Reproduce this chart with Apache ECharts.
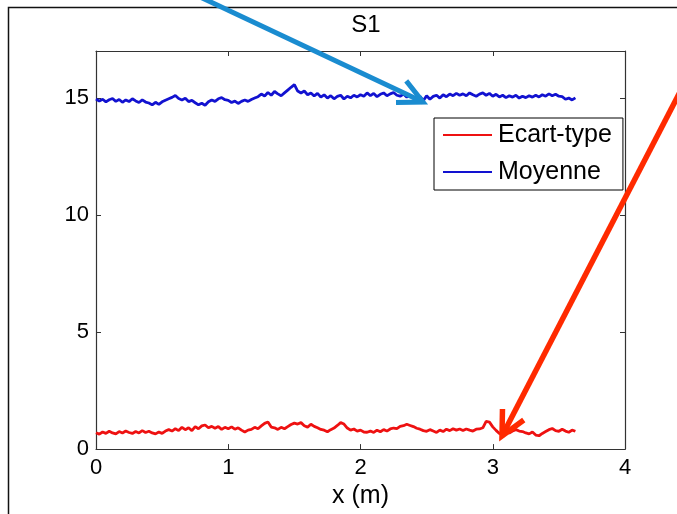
<!DOCTYPE html>
<html>
<head>
<meta charset="utf-8">
<script src="https://cdn.jsdelivr.net/npm/echarts@6/dist/echarts.min.js"></script>
<style>
  html, body { margin: 0; padding: 0; background: #fff; }
  #chart { width: 677px; height: 514px; }
</style>
</head>
<body>
<div id="chart"></div>
<script>
// Position along the profile (m): samples every 0.025 m starting at 0
const xStart = 0;
const xStep = 0.025;

// Mean value along x
const moyenne = [
  14.95, 14.86, 14.94, 14.83, 14.92, 14.97, 14.85, 14.93, 14.81, 14.91, 14.84, 14.96, 14.87, 14.8, 14.91, 14.82,
  14.78, 14.7, 14.81, 14.72, 14.83,
  14.9, 14.96, 15.02, 15.1, 14.97,
  14.91, 14.98, 14.84, 14.89,
  14.79, 14.7, 14.77, 14.68, 14.83,
  14.91, 14.85, 14.96, 15.01, 14.92,
  14.89, 14.8, 14.86, 14.76, 14.85,
  14.91, 14.85, 14.93, 14.99,
  15.05, 15.16, 15.08, 15.23, 15.11, 15.27, 15.17, 15.09,
  15.21, 15.33, 15.45, 15.56, 15.29, 15.21,
  15.29, 15.13, 15.21, 15.08, 15.19, 15.03, 15.13, 14.99,
  15.09, 14.96, 15.06, 15.11, 14.95, 15.07, 15.0, 15.11,
  15.04, 15.13, 15.07, 15.21, 15.09, 15.19, 15.05, 15.15,
  15.21, 15.09, 15.17, 15.23, 15.11, 15.07, 15.16, 15.03,
  15.11, 14.98, 14.93, 15.06, 14.88, 15.09, 14.94, 15.06,
  15.11, 14.99, 15.13, 15.05, 15.16, 15.09, 15.19, 15.11,
  15.17, 15.09, 15.21, 15.13, 15.07, 15.16, 15.21, 15.11,
  15.19, 15.07, 15.15, 15.04, 15.11, 15.01, 15.09, 15.03,
  15.11, 14.99, 15.07, 15.01, 15.09, 15.03, 15.11, 15.04,
  15.13, 15.07, 15.17, 15.09, 15.15, 15.07, 15.05,
  14.94, 14.99, 14.91, 15.0
];

// Standard deviation along x
const ecartType = [
  0.7, 0.64, 0.73, 0.67, 0.76, 0.69, 0.65, 0.75,
  0.69, 0.77, 0.71, 0.67, 0.75, 0.69, 0.79, 0.71,
  0.76, 0.69, 0.65, 0.73, 0.67,
  0.77, 0.83, 0.77, 0.87, 0.79, 0.93, 0.83,
  0.91, 0.79, 0.96, 0.87, 0.99, 1.03, 0.91, 0.97, 0.89,
  0.96, 0.84, 0.93, 0.87, 0.95, 0.85, 0.91, 0.81,
  0.73, 0.81, 0.84, 0.93, 0.87, 0.99,
  1.1, 1.16, 0.94, 0.91, 0.84,
  0.93, 0.87, 0.96, 1.05, 1.11, 1.07, 1.13,
  1.0, 0.94, 1.06, 0.97, 0.91, 0.84, 0.81,
  0.74, 0.83, 0.9, 1.01, 1.13, 1.07,
  0.9, 0.81, 0.86, 0.77, 0.81, 0.73, 0.72,
  0.77, 0.71, 0.81, 0.74, 0.83, 0.77,
  0.86, 0.9, 0.87, 0.97, 1.0, 1.06, 1.01,
  0.96, 0.89, 0.85, 0.79, 0.76, 0.83, 0.77,
  0.71, 0.81, 0.75, 0.85, 0.79, 0.87, 0.81, 0.86,
  0.79, 0.86, 0.81, 0.77, 0.85, 0.86, 0.91,
  1.18, 1.15, 0.95,
  0.8, 0.67, 0.62, 0.73, 0.69, 0.77,
  0.83, 0.77, 0.75, 0.69, 0.65, 0.73,
  0.6, 0.57, 0.67, 0.75, 0.83, 0.88,
  0.79, 0.76, 0.85, 0.77, 0.72, 0.81, 0.76
];

const xTicks = [0, 1, 2, 3, 4];
const yTicks = [0, 5, 10, 15];

const toPairs = arr => arr.map((v, i) => [+(xStart + i * xStep).toFixed(3), v]);

const FONT = '"Liberation Sans", Arial, sans-serif';
const AXIS_COLOR = '#333';

const chart = echarts.init(document.getElementById('chart'), null, { renderer: 'canvas' });

// Plain arrow (shaft + two head strokes) drawn as overlay annotation
function arrow(x1, y1, x2, y2, color, width, headLen, headAngle) {
  const ang = Math.atan2(y1 - y2, x1 - x2);
  const a1 = ang + headAngle, a2 = ang - headAngle;
  const style = { stroke: color, lineWidth: width, lineCap: 'butt', lineJoin: 'miter', fill: null };
  return [
    { type: 'line', z: 100, shape: { x1, y1, x2, y2 }, style },
    { type: 'polyline', z: 100, shape: { points: [
      [x2 + headLen * Math.cos(a1), y2 + headLen * Math.sin(a1)],
      [x2, y2],
      [x2 + headLen * Math.cos(a2), y2 + headLen * Math.sin(a2)]
    ] }, style }
  ];
}

// Box axes: ticks point into the plot (negative length flips them inward)
const tickStyle = { show: true, inside: false, length: -5, lineStyle: { color: AXIS_COLOR, width: 1 } };
const lineStyle = { show: true, onZero: false, lineStyle: { color: AXIS_COLOR, width: 1.2 } };

const option = {
  backgroundColor: '#fff',
  animation: false,
  title: {
    text: 'S1',
    left: 361, top: 8, textAlign: 'center',
    textStyle: { fontFamily: FONT, fontSize: 24, fontWeight: 'normal', color: '#000' }
  },
  grid: { left: 96, right: 52, top: 51, bottom: 62, containLabel: false },
  legend: {
    orient: 'vertical',
    left: 434, top: 118,
    data: ['Ecart-type', 'Moyenne'],
    icon: 'rect',
    itemWidth: 49, itemHeight: 2,
    itemGap: 11,
    padding: [4, 11, 5, 9],
    backgroundColor: '#fff',
    borderColor: '#000',
    borderWidth: 1,
    textStyle: { fontFamily: FONT, fontSize: 25, color: '#000', padding: [0, 0, 0, 1], lineHeight: 26 }
  },
  xAxis: [{
    type: 'value', min: 0, max: 4, interval: 1, position: 'bottom',
    name: 'x (m)', nameLocation: 'middle', nameGap: 31,
    nameTextStyle: { fontFamily: FONT, fontSize: 25, color: '#000' },
    axisLine: lineStyle,
    axisTick: tickStyle,
    axisLabel: { fontFamily: FONT, fontSize: 22, color: '#000', margin: 8,
      formatter: v => xTicks.includes(v) ? String(v) : '' },
    splitLine: { show: false }
  }, {
    type: 'value', min: 0, max: 4, interval: 1, position: 'top',
    axisLine: lineStyle,
    axisTick: tickStyle,
    axisLabel: { show: false }, splitLine: { show: false }
  }],
  yAxis: [{
    type: 'value', min: 0, max: 17, interval: 5, position: 'left',
    axisLine: lineStyle,
    axisTick: tickStyle,
    axisLabel: { fontFamily: FONT, fontSize: 22, color: '#000', margin: 7,
      formatter: v => yTicks.includes(v) ? String(v) : '' },
    splitLine: { show: false }
  }, {
    type: 'value', min: 0, max: 17, interval: 5, position: 'right',
    axisLine: lineStyle,
    axisTick: tickStyle,
    axisLabel: { show: false }, splitLine: { show: false }
  }],
  series: [{
    name: 'Ecart-type', type: 'line',
    xAxisIndex: 0, yAxisIndex: 0,
    data: toPairs(ecartType),
    showSymbol: false, smooth: false,
    lineStyle: { color: '#ee1111', width: 2.8 },
    itemStyle: { color: '#ee1111' }
  }, {
    name: 'Moyenne', type: 'line',
    xAxisIndex: 1, yAxisIndex: 1,
    data: toPairs(moyenne),
    showSymbol: false, smooth: false,
    lineStyle: { color: '#1212d0', width: 2.8 },
    itemStyle: { color: '#1212d0' }
  }],
  graphic: [
    // figure frame
    { type: 'rect', z: 90, shape: { x: 8.5, y: 7.5, width: 720, height: 560 },
      style: { fill: null, stroke: '#111', lineWidth: 1.5 } },
    ...arrow(198, -4, 423, 102, '#1a8cd0', 5, 27, 0.46),
    ...arrow(680, 92, 502, 436, '#ff2a00', 5.5, 27, 0.46)
  ]
};

chart.setOption(option);
</script>
</body>
</html>
